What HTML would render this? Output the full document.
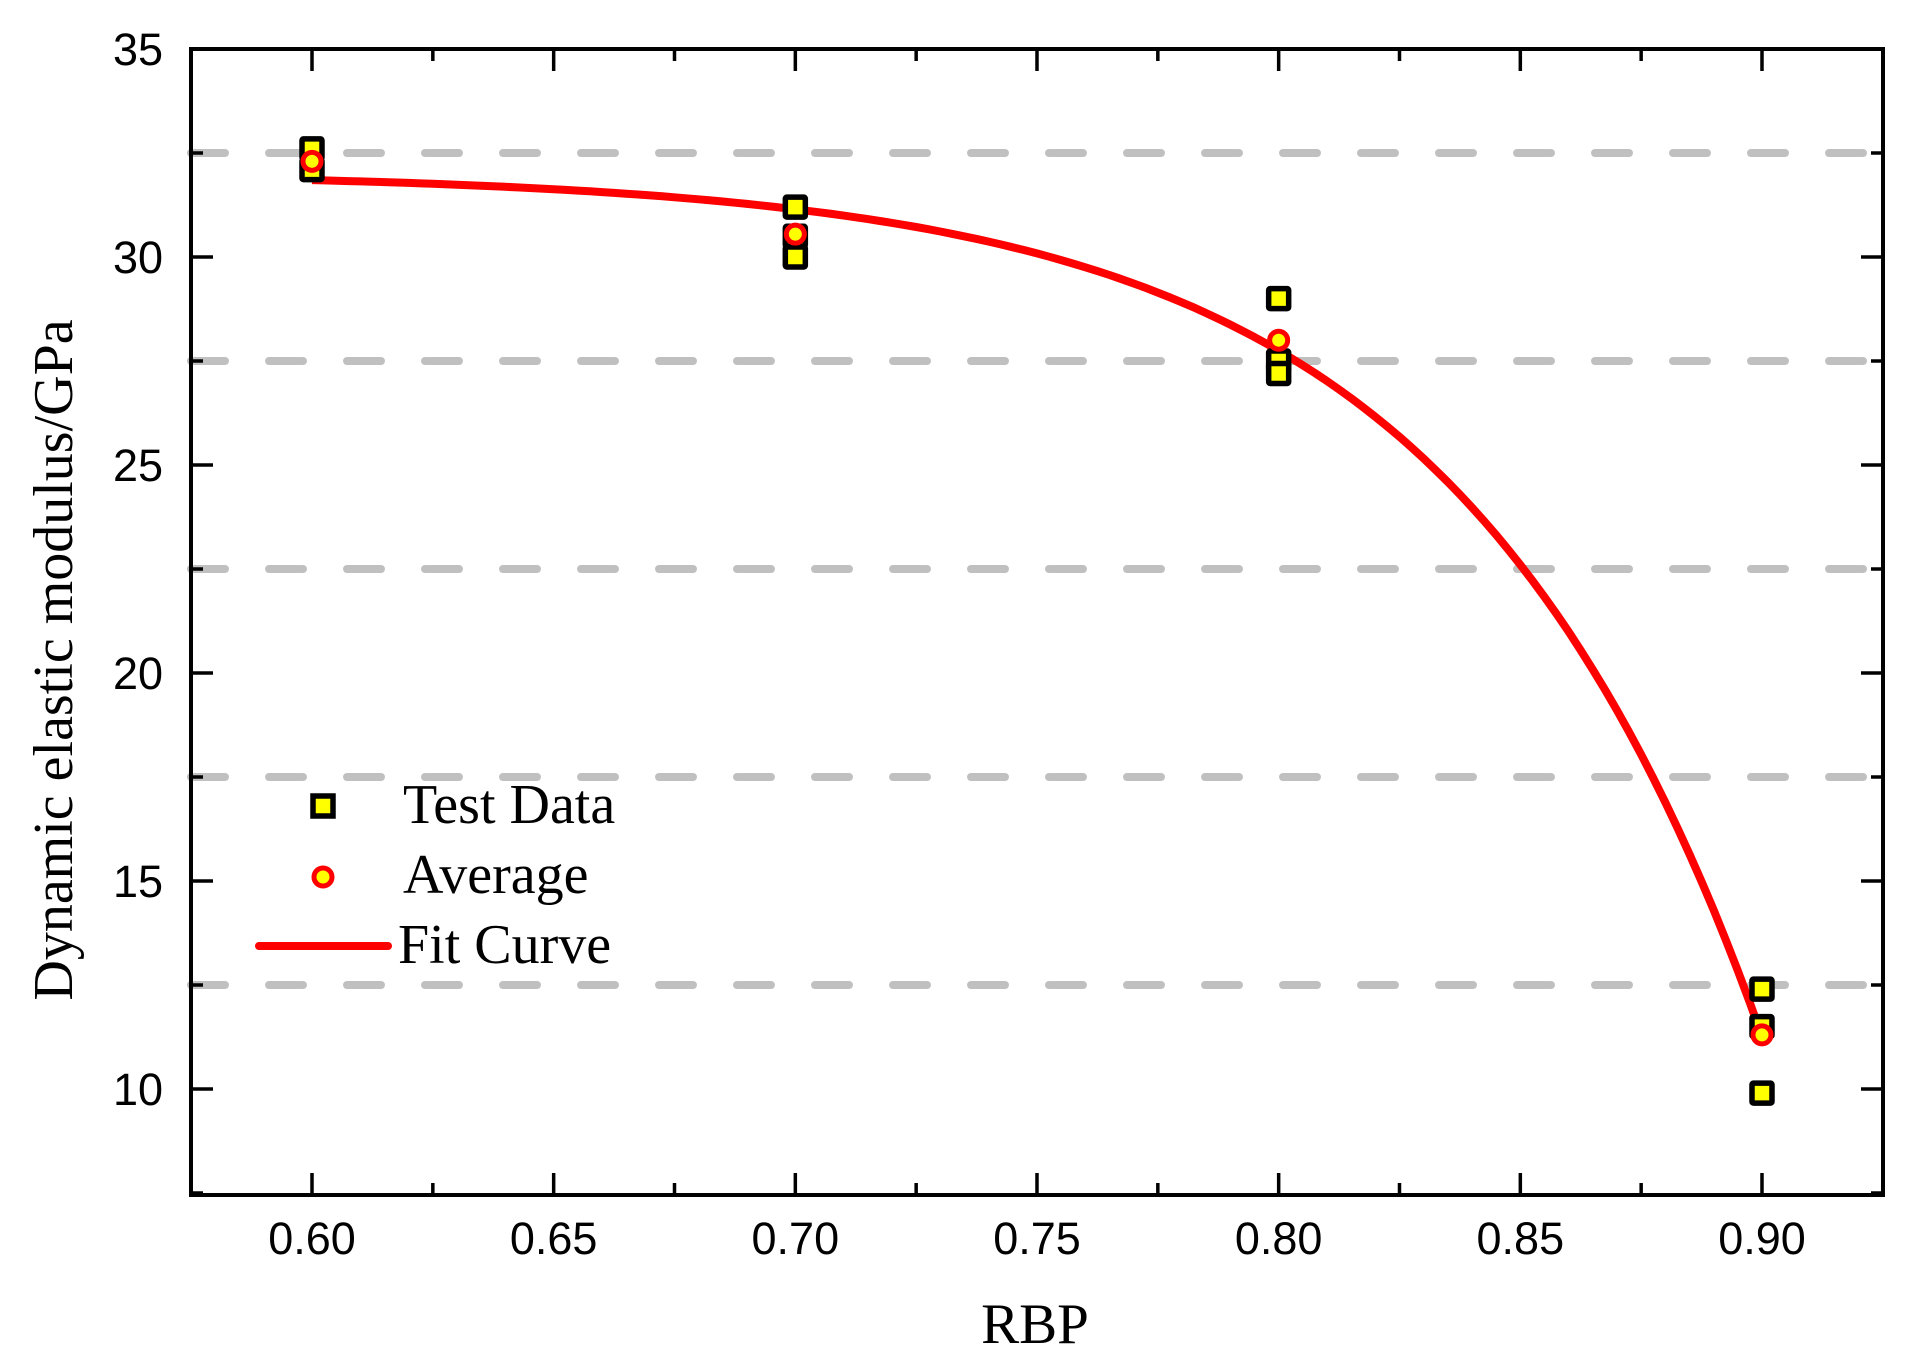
<!DOCTYPE html>
<html><head><meta charset="utf-8"><style>
html,body{margin:0;padding:0;background:#fff;}
svg{display:block;}
</style></head><body>
<svg id="s" width="1906" height="1363" viewBox="0 0 1906 1363" xmlns="http://www.w3.org/2000/svg">
<g id="grid" stroke="#c0c0c0" stroke-width="8" stroke-linecap="round" stroke-dasharray="34 44"></g>
<g id="ticks" stroke="#000" stroke-width="3.5"></g>
<rect x="191" y="49" width="1692" height="1146" fill="none" stroke="#000" stroke-width="4"/>
<g id="ylab" font-family="Liberation Sans, Arial, sans-serif" font-size="45" text-anchor="end" fill="#000"></g>
<g id="xlab" font-family="Liberation Sans, Arial, sans-serif" font-size="45" text-anchor="middle" fill="#000"></g>
<path id="fit" fill="none" stroke="#ff0000" stroke-width="8" stroke-linejoin="round"/>
<g id="sq" fill="#ffff00" stroke="#000" stroke-width="5.5"></g>
<g id="avg" fill="#ffff00" stroke="#ff0000" stroke-width="5"></g>
<text x="0" y="0" transform="translate(72,660) rotate(-90)" font-family="Liberation Serif, Times New Roman, serif" font-size="56" text-anchor="middle">Dynamic elastic modulus/GPa</text>
<text x="1035" y="1343" font-family="Liberation Serif, Times New Roman, serif" font-size="57" text-anchor="middle">RBP</text>
<rect x="313" y="796" width="20" height="20" fill="#ffff00" stroke="#000" stroke-width="5.5"/>
<circle cx="323" cy="877" r="9" fill="#ffff00" stroke="#ff0000" stroke-width="5"/>
<line x1="259" y1="946" x2="388" y2="946" stroke="#ff0000" stroke-width="8" stroke-linecap="round"/>
<g font-family="Liberation Serif, Times New Roman, serif" font-size="56" fill="#000">
<text x="403" y="823">Test Data</text>
<text x="403" y="893">Average</text>
<text x="398" y="963">Fit Curve</text>
</g>
</svg>
<script>
var NS="http://www.w3.org/2000/svg";
function X(v){return 312+(v-0.6)*4833.3;}
function Y(v){return 257-(v-30)*41.6;}
function el(p,t,a){var e=document.createElementNS(NS,t);for(var k in a)e.setAttribute(k,a[k]);document.getElementById(p).appendChild(e);return e;}
[32.5,27.5,22.5,17.5,12.5].forEach(function(g){el("grid","line",{x1:191,x2:1883,y1:Y(g),y2:Y(g)});});
for(var i=0;i<=14;i++){var v=0.575+i*0.025;var x=X(v);if(x<193||x>1881)continue;var maj=(i%2==1);var L=maj?22:12;
el("ticks","line",{x1:x,x2:x,y1:1195,y2:1195-L});el("ticks","line",{x1:x,x2:x,y1:49,y2:49+L});
if(maj){var t=el("xlab","text",{x:x,y:1254});t.textContent=v.toFixed(2);}}
for(var j=0;j<=12;j++){var v=7.5+j*2.5;var y=Y(v);if(y<45||y>1193)continue;var maj=(j%2==1);var L=maj?22:12;
if(y>51){el("ticks","line",{x1:191,x2:191+L,y1:y,y2:y});el("ticks","line",{x1:1883,x2:1883-L,y1:y,y2:y});}
if(maj){var t=el("ylab","text",{x:163,y:y+16});t.textContent=String(v);}}
var d="";for(var k=0;k<=120;k++){var v=0.6+k*0.0025;var yy=32.03-0.182*Math.pow(4.85,(v-0.6)/0.1);d+=(k?"L":"M")+X(v).toFixed(1)+" "+Y(yy).toFixed(1);}
document.getElementById("fit").setAttribute("d",d);
var sq=[[0.6,32.6],[0.6,32.1],[0.7,31.2],[0.7,30.5],[0.7,30.0],[0.8,29.0],[0.8,27.5],[0.8,27.2],[0.9,12.4],[0.9,11.5],[0.9,9.9]];
sq.forEach(function(p){el("sq","rect",{x:X(p[0])-10,y:Y(p[1])-10,width:20,height:20,rx:1.5});});
[[0.6,32.3],[0.7,30.55],[0.8,28.0],[0.9,11.3]].forEach(function(p){el("avg","circle",{cx:X(p[0]),cy:Y(p[1]),r:9});});
</script>
</body></html>
